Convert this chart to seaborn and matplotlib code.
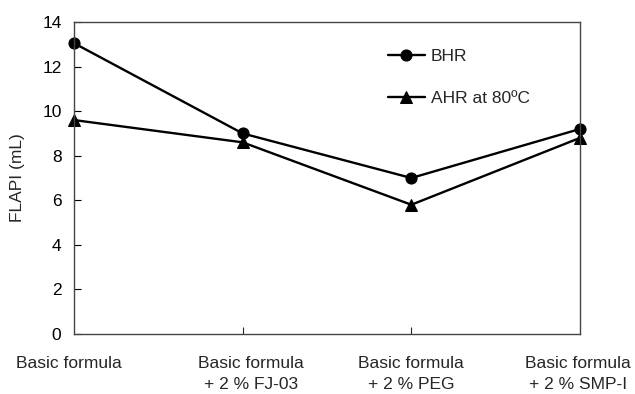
import matplotlib
matplotlib.use("Agg")
import matplotlib.pyplot as plt
import seaborn as sns
import pandas as pd

categories = ["Basic formula", "Basic formula\n+ 2 % FJ-03", "Basic formula\n+ 2 % PEG", "Basic formula\n+ 2 % SMP-I"]
bhr = [13.05, 9.0, 7.0, 9.2]
ahr = [9.6, 8.6, 5.8, 8.8]
series_names = ["BHR", "AHR at 80ºC"]
yticks = [0, 2, 4, 6, 8, 10, 12, 14]

sns.set_theme(style="white")
plt.rcParams['font.family'] = ['Liberation Sans', 'DejaVu Sans']

df = pd.DataFrame({
    "x": list(range(len(categories))) * 2,
    "value": bhr + ahr,
    "series": [series_names[0]] * len(bhr) + [series_names[1]] * len(ahr),
})

FS = 12.5
fig = plt.figure(figsize=(6.35, 3.94), dpi=100)
ax = fig.add_axes([74/635, 60/394, 506/635, 312/394])

sns.lineplot(data=df, x="x", y="value", style="series", hue="series",
             palette={series_names[0]: "black", series_names[1]: "black"},
             markers={series_names[0]: "o", series_names[1]: "^"},
             dashes=False, markersize=8, linewidth=1.7, markeredgecolor="black",
             ax=ax, legend=True, clip_on=False)

ax.set_xlim(0, 3)
ax.set_ylim(0, 14)
ax.set_yticks(yticks)
ax.tick_params(axis="y", direction="in", length=5, width=0.8, left=True, labelsize=FS, colors="black", pad=9)
ax.set_xticks([1, 2])
ax.set_xticklabels([])
ax.tick_params(axis="x", direction="in", length=5, width=0.8, bottom=True)
ax.set_xlabel("")
ax.set_ylabel("FLAPI (mL)", fontsize=FS)
ax.yaxis.set_label_coords(-0.097, 0.5)
for s in ax.spines.values():
    s.set_color("#444444")
    s.set_linewidth(1.0)

# category labels
offsets = [-4, 6, 0, -1.5]
for i, lab in enumerate(categories):
    ax.annotate(lab, xy=(i, 0), xycoords=("data", "axes fraction"),
                xytext=(offsets[i], -16), textcoords="offset points",
                ha="center", va="top", fontsize=FS, linespacing=1.45,
                annotation_clip=False)

leg = ax.legend(loc="upper left", bbox_to_anchor=(0.607, 0.937), borderaxespad=0,
                frameon=False, fontsize=FS, handlelength=2.1, labelspacing=1.55,
                handletextpad=0.35)

fig.savefig("out.png", dpi=100)
